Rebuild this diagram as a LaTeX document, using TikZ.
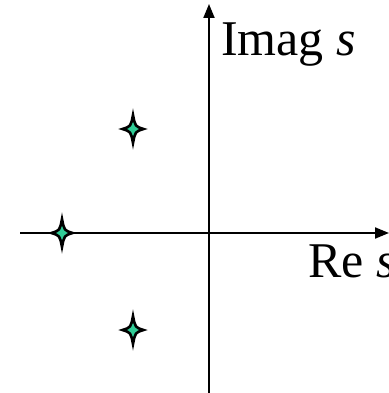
\documentclass[tikz,border=0pt]{standalone}
\usepackage{fontspec}
\setmainfont{Liberation Serif}
\usetikzlibrary{arrows.meta}
\definecolor{sparkgreen}{RGB}{48,204,150}
\tikzset{
  axisline/.style={line width=2pt, -{Triangle[length=14pt,width=11pt]}},
  axislabel/.style={anchor=base west, inner sep=0pt, font=\fontsize{50}{52}\selectfont},
  pics/spark/.style={code={
    \draw[line width=2.6pt, fill=sparkgreen, line join=miter, miter limit=20]
      (0,-14) .. controls (2.2,-2.6) .. (10.5,0)
      .. controls (2.2,2.6) .. (0,14)
      .. controls (-2.2,2.6) .. (-10.5,0)
      .. controls (-2.2,-2.6) .. cycle;
  }}
}
\begin{document}
\begin{tikzpicture}[x=1pt,y=-1pt]
\useasboundingbox (0,0) rectangle (388,393);
\coordinate (vbot) at (209,393);
\coordinate (vtop) at (209,4);
\coordinate (hleft) at (20,233);
\coordinate (hright) at (389,233);
\draw[axisline] (vbot) -- (vtop);
\draw[axisline] (hleft) -- (hright);
\node[axislabel] (imag) at (221,56) {Imag \textit{s}};
\node[axislabel] (re) at (308,277) {Re \textit{s}};
\coordinate (p1) at (133,129);
\coordinate (p2) at (62,233);
\coordinate (p3) at (133,330);
\pic at (p1) {spark};
\pic at (p2) {spark};
\pic at (p3) {spark};
\end{tikzpicture}
\end{document}
